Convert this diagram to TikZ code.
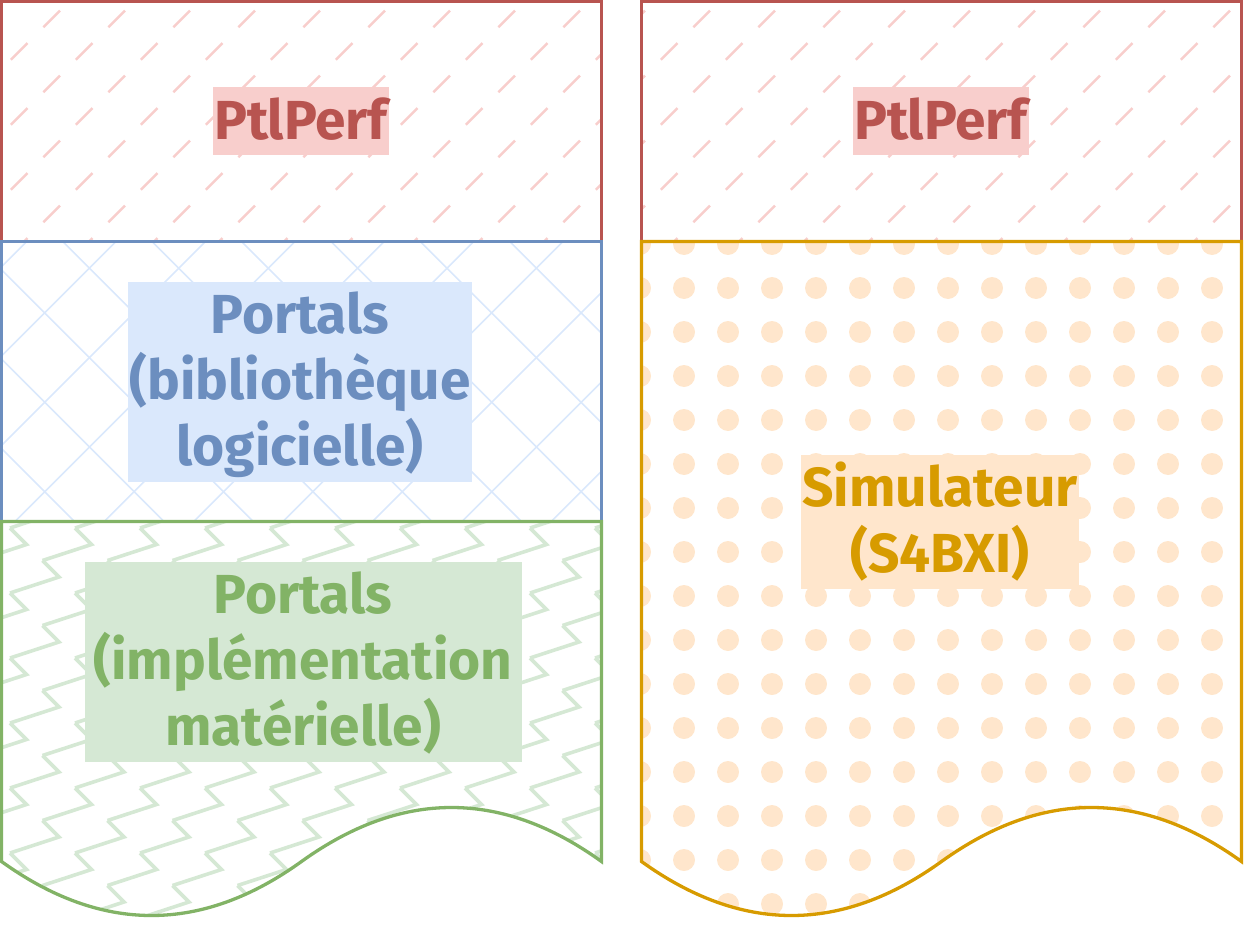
\documentclass[tikz,border=0pt]{standalone}
\usepackage{fontspec}
\setmainfont{Fira Sans}
\usepackage{tikz}
\definecolor{redline}{HTML}{B85450}
\definecolor{redfill}{HTML}{F8CECC}
\definecolor{blueline}{HTML}{6C8EBF}
\definecolor{bluefill}{HTML}{DAE8FC}
\definecolor{greenline}{HTML}{82B366}
\definecolor{greenfill}{HTML}{D5E8D4}
\definecolor{orangeline}{HTML}{D79B00}
\definecolor{orangefill}{HTML}{FFE6CC}
\newcommand{\docshape}[2]{(#1,#2) -- (#1+600,#2) -- (#1+600,861.5) .. controls (#1+500,789.5) and (#1+400,789.5) .. (#1+300,861.5) .. controls (#1+200,933.5) and (#1+100,933.5) .. (#1,861.5) -- cycle}
\newcommand{\ls}{\rule[-15pt]{0pt}{66pt}}

\begin{document}
\begin{tikzpicture}[x=1pt, y=-1pt,
	border/.style={line width=3.3pt},
	lbl/.style={inner xsep=1pt, inner ysep=1pt, align=center, font=\fontsize{55}{66}\selectfont\bfseries}]
	\useasboundingbox (0,0) rectangle (1244,928);

	% PtlPerf, both columns
	\begin{scope}
		\clip (1.5,1.5) rectangle (601.5,241.5) (641.5,1.5) rectangle (1241.5,241.5);
		\foreach \k in {0,...,7}{
			\pgfmathsetmacro{\xs}{51.7-32.5*mod(\k,2)}
			\foreach \i in {-1,...,19}
				\draw[redfill, line width=2.5pt] (\xs+65*\i-8.3, 18.9+32.5*\k+8.3) -- ++(16.6,-16.6);
		}
	\end{scope}
	\draw[border, redline] (1.5,1.5) rectangle (601.5,241.5);
	\draw[border, redline] (641.5,1.5) rectangle (1241.5,241.5);
	\node[lbl, fill=redfill, text=redline] (perfA) at (301,121.5) {\ls PtlPerf};
	\node[lbl, fill=redfill, text=redline] (perfB) at (941,121.5) {\ls PtlPerf};

	% Portals library
	\begin{scope}
		\clip (1.5,241.5) rectangle (601.5,521.5);
		\foreach \k in {-7,...,14}{
			\draw[bluefill, line width=1.6pt] (89.4*\k,0) -- ++(-1000,1000);
			\draw[bluefill, line width=1.6pt] (89.4*\k,0) -- ++(1000,1000);
		}
	\end{scope}
	\draw[border, blueline] (1.5,241.5) rectangle (601.5,521.5);
	\node[lbl, fill=bluefill, text=blueline] (lib) at (300,381.5) {\ls Portals\\\ls (bibliothèque\\\ls logicielle)};

	% Portals hardware
	\begin{scope}
		\clip \docshape{1.5}{521.5};
		\foreach \v in {-9,...,5}{
			\pgfmathsetmacro{\xs}{10+32.5*mod(\v+10,2)}
			\foreach \m in {-1,...,9}
				\draw[greenfill, line width=3.6pt] (\xs+65*\m, 788+32.5*\v) -- ++(49,-16) -- ++(-16.5,-16.5);
		}
	\end{scope}
	\draw[border, greenline] \docshape{1.5}{521.5};
	\node[lbl, fill=greenfill, text=greenline, inner xsep=9pt] (hw) at (303,661.5) {\ls Portals\\\ls (implémentation\\\ls matérielle)};

	% simulator
	\begin{scope}
		\clip \docshape{641.5}{241.5};
		\foreach \i in {0,...,14}
			\foreach \j in {0,...,15}
				\fill[orangefill] (640+44*\i, 244+44*\j) circle (11pt);
	\end{scope}
	\draw[border, orangeline] \docshape{641.5}{241.5};
	\node[lbl, fill=orangefill, text=orangeline] (sim) at (940,521.5) {\ls Simulateur\\\ls (S4BXI)};
\end{tikzpicture}
\end{document}
